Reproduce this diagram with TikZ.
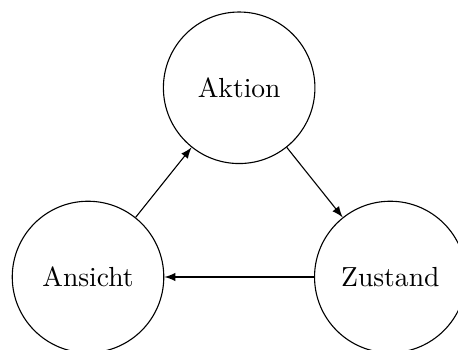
\documentclass[tikz,border=0pt]{standalone}
\usetikzlibrary{arrows}

\tikzset{
  zustandskreis/.style={draw, circle, minimum size=1.93cm, inner sep=0pt},
}

\begin{document}
\begin{tikzpicture}[scale=1.0, >=latex]
    \useasboundingbox (-1.121,-0.917) rectangle (4.712,3.528);

    \node[zustandskreis] (ansicht) at (0,0) {Ansicht};
    \node[zustandskreis] (zustand) at (3.85,0) {Zustand};
    \node[zustandskreis] (aktion) at (1.925,2.41) {Aktion};

    \draw[->] (ansicht) -- (aktion);
    \draw[->] (aktion) -- (zustand);
    \draw[->] (zustand) -- (ansicht);
  \end{tikzpicture}
\end{document}
